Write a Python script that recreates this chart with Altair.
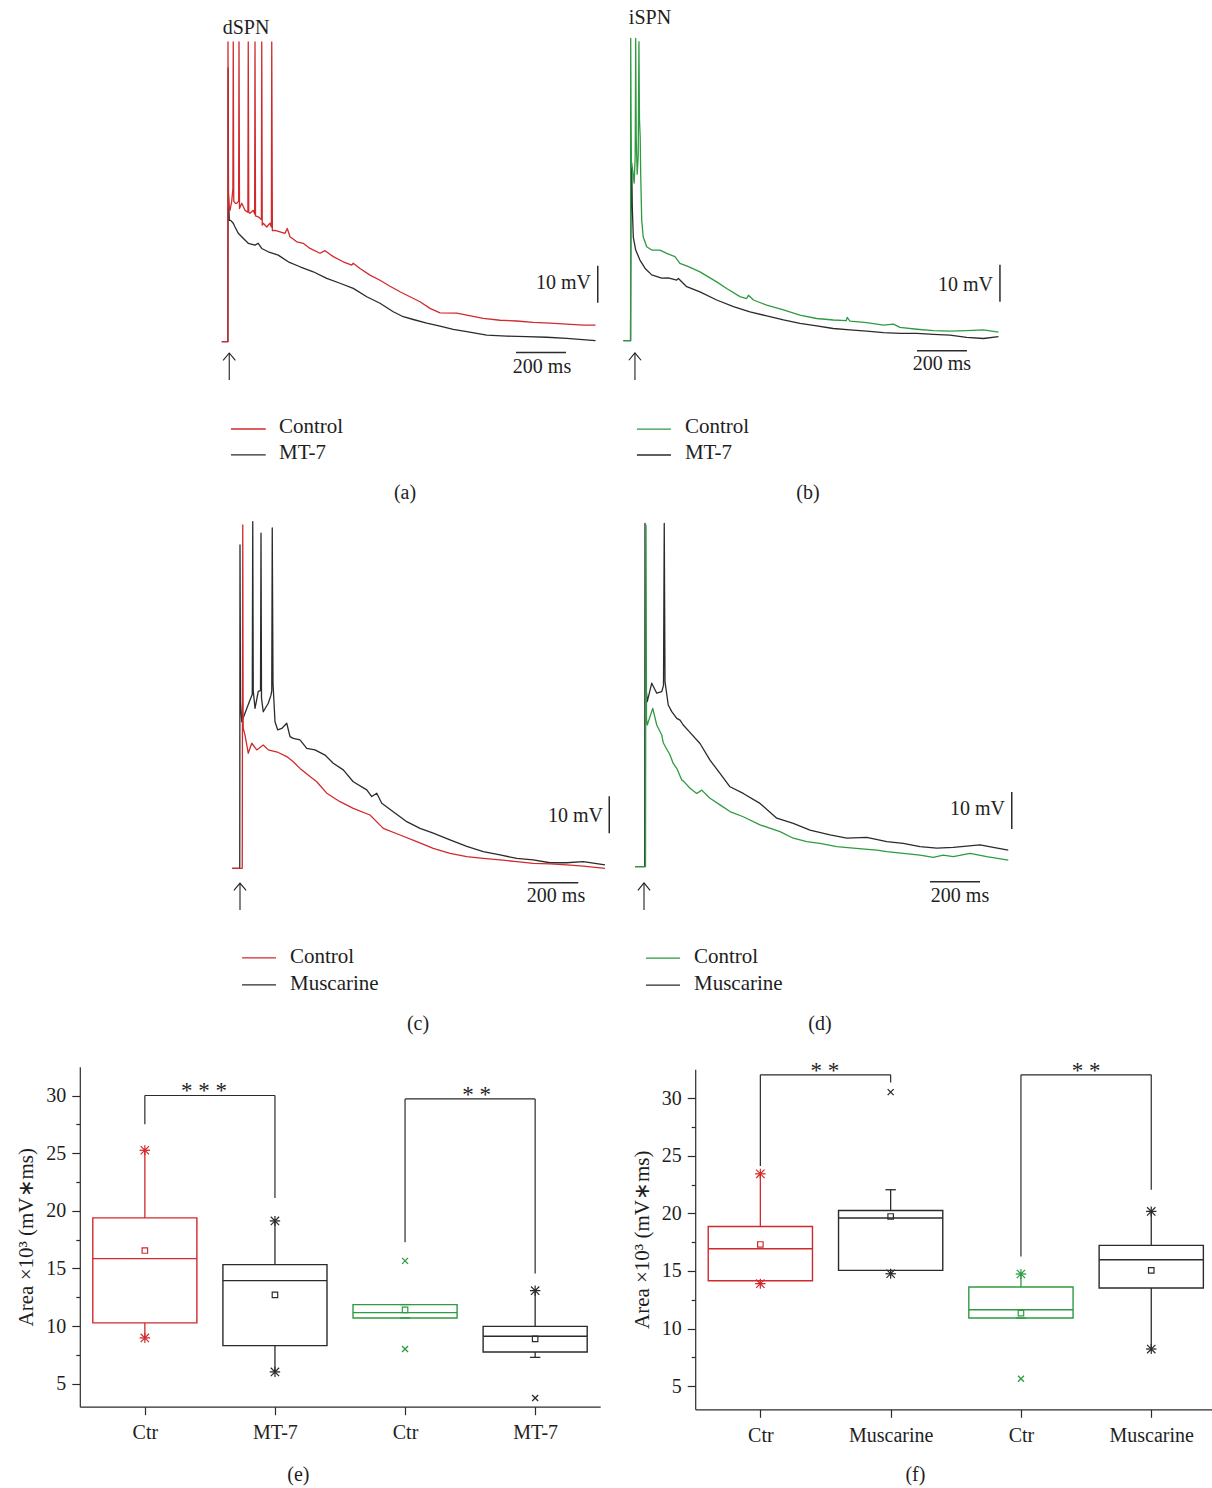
import altair as alt
import pandas as pd

RED = "#d12a2c"
GREEN = "#2f9a41"
DARK = "#2b2b2b"
INK = "#1e1e1e"
FONT = "Liberation Serif"
W, H = 1212, 1488

# ---------------- recorded traces: (ms after stimulus, mV above resting level)
A_CONTROL = [(-25, 0), (-0.5, 0), (0, 81), (1.5, 40), (5, 36), (8, 35.5), (15, 38), (19.5, 41.4), (21, 81),
             (23, 38), (30, 37.4), (35, 37.4), (42.5, 38), (44, 81), (46, 36), (55, 37.4), (68, 35.5),
             (79.5, 35), (81, 81), (83, 35), (88, 34.7), (101, 35.5), (106.5, 34.5), (108, 81), (110, 34),
             (121, 33.75), (133.5, 33), (135, 81), (137, 31.5), (141, 32), (155, 31), (168, 32), (173.5, 31),
             (175, 81), (177.5, 30), (188, 30.1), (208, 29.7), (228, 29.3), (237, 30.6), (248, 28.35),
             (275, 27), (301, 26.6), (328, 25.2), (368, 23.9), (388, 24.6), (421, 23), (461, 21.6),
             (495, 20.7), (501, 21.2), (528, 19.8), (568, 18), (608, 16.6), (648, 15), (688, 13.5),
             (728, 12.15), (768, 10.8), (808, 9), (848, 7.8), (915, 7.7), (955, 7.2), (1021, 6.3),
             (1088, 5.8), (1155, 5.6), (1221, 5.2), (1288, 5), (1355, 4.75), (1421, 4.5), (1470, 4.5)]
A_MT7 = [(-25, 0), (-0.5, 0), (0.5, 74), (2, 40), (5, 32.8), (10.7, 32.8), (21, 32), (28, 31), (41, 29.3),
         (54.7, 28.35), (81, 26.6), (108, 26.1), (121, 26.6), (134.7, 25.2), (161, 24.3), (201, 23.4),
         (241, 21.6), (288, 20.25), (341, 18.9), (395, 17.1), (448, 15.8), (501, 14.4), (555, 12.15),
         (608, 10.4), (661, 8.1), (701, 6.75), (741, 6), (795, 5), (848, 4.2), (901, 3.35), (955, 2.7),
         (1035, 1.8), (1115, 1.5), (1195, 1.35), (1275, 1.2), (1355, 0.9), (1470, 0.3)]
B_CONTROL = [(-29, 0), (-0.5, 0), (0, 81.7), (1.5, 60), (3, 47), (6, 47), (10, 45), (14, 42.6), (18, 50),
             (20, 81.7), (22, 55), (26, 45), (30, 50), (33, 80.8), (35, 60), (38, 55), (40, 45), (44, 32.6),
             (50, 28.1), (64, 25.4), (84, 24.5), (117, 24.5), (144, 23.6), (177, 22.7), (197, 20.9),
             (231, 20), (277, 18.6), (344, 15.9), (384, 14.1), (437, 11.9), (464, 11.4), (471, 12.3),
             (491, 11), (544, 9.6), (611, 8.3), (677, 6.9), (744, 6), (810, 5.6), (862, 5.4), (866, 6.3),
             (877, 5.3), (944, 4.9), (1011, 4.2), (1051, 4.5), (1077, 3.6), (1144, 3.1), (1211, 2.7),
             (1277, 2.6), (1344, 2.7), (1411, 2.9), (1471, 2.3)]
B_MT7 = [(-29, 0), (-0.5, 0), (1, 35), (4, 48), (6.4, 36), (10.4, 28), (20, 24.5), (37, 21.8), (57, 19.6),
         (84, 17.8), (124, 16.9), (150, 17), (184, 16.4), (191, 16.8), (224, 14.6), (277, 13.2), (344, 11),
         (411, 9.2), (477, 7.8), (544, 6.7), (611, 5.6), (677, 4.7), (744, 4), (810, 3.3), (877, 2.9),
         (944, 2.6), (1011, 2.2), (1077, 2), (1144, 2), (1211, 1.7), (1277, 1.5), (1344, 0.9),
         (1411, 0.6), (1471, 1.1)]
C_CONTROL = [(-31, 0), (9, 0), (11, 92.8), (12.5, 40), (13, 37.8), (20, 36), (33, 31.1), (47, 33.8),
             (67, 32), (93, 33.3), (113, 32), (153, 31.3), (187, 30.2), (213, 28.8), (240, 27), (280, 24.8),
             (307, 23.4), (347, 20.3), (400, 18), (453, 16.2), (520, 14.4), (573, 10.8), (640, 9),
             (707, 7.2), (773, 5.4), (840, 4.05), (907, 3.15), (973, 2.7), (1040, 2.25), (1107, 1.8),
             (1173, 1.35), (1240, 1.2), (1307, 0.9), (1373, 0.6), (1460, 0)]
C_MUSCARINE = [(-31, 0), (-1, 0), (0, 87.4), (2, 45), (7, 39.6), (27, 43.2), (40, 45.5), (49, 47), (51, 93.7),
               (53, 48), (60, 43.2), (73, 47.8), (82, 48), (84, 90.6), (86, 46), (93, 42.3), (113, 44.6),
               (124, 46.8), (127, 48), (129, 92), (132, 50), (140, 39.6), (151, 37.4), (167, 37.8),
               (187, 39.2), (200, 35.6), (213, 35.1), (240, 34.7), (267, 32.4), (300, 32), (340, 30.6),
               (373, 28.4), (413, 26.6), (453, 23.4), (507, 21.2), (527, 19.4), (547, 20.3), (567, 17.6),
               (613, 15.3), (667, 12.6), (720, 10.8), (773, 9.5), (840, 7.7), (907, 5.9), (973, 4.5),
               (1040, 3.6), (1107, 2.7), (1173, 2.25), (1240, 1.5), (1307, 1.5), (1373, 1.8), (1460, 0.9)]
D_CONTROL = [(-40, 0), (2, 0), (4, 92.3), (6, 40), (9, 38.3), (31, 42.8), (47, 38.3), (67, 35.6), (73, 33.5),
             (100, 30.2), (113, 27.9), (127, 26.6), (147, 23.4), (153, 23.2), (180, 21.2), (207, 19.8),
             (227, 20.7), (260, 18.5), (300, 16.7), (340, 14.9), (393, 13.5), (460, 11.3), (540, 9.5),
             (593, 7.7), (647, 6.8), (700, 6.3), (767, 5.4), (833, 5), (927, 4.5), (967, 4.05), (1033, 3.6),
             (1100, 3.15), (1153, 2.5), (1193, 3.15), (1233, 2.7), (1300, 3.6), (1367, 2.7), (1453, 1.8)]
D_MUSCARINE = [(-40, 0), (-1, 0), (0, 92.8), (2, 50), (9, 44.6), (27, 49.6), (47, 46.9), (67, 47.3), (74, 49),
               (77, 92.8), (80, 50), (93, 43.7), (107, 41.9), (127, 40.1), (140, 39.6), (153, 38.3),
               (177, 36.5), (220, 33.3), (260, 28.8), (300, 25.2), (340, 21.6), (393, 19.8), (460, 17.1),
               (527, 13.1), (593, 11.7), (660, 9.9), (740, 8.6), (807, 7.7), (887, 7.9), (967, 6.8),
               (1033, 6.3), (1100, 5.4), (1167, 5), (1233, 5.2), (1340, 5.9), (1393, 5.2), (1453, 4.5)]

# ---------------- box plot statistics (Area x10^3, mV*ms)
E_CATS = ["Ctr", "MT-7", "Ctr", "MT-7"]
E_Q1 = [10.27, 8.3, 10.7, 7.75]
E_Q3 = [19.38, 15.33, 11.86, 9.97]
E_MED = [15.85, 13.94, 11.16, 9.11]
E_MEAN = [16.55, 12.7, 11.4, 8.88]
E_WLO = [8.97, 6.02, 10.7, 7.28]
E_WHI = [25.25, 19.12, 11.86, 13.07]
E_STARS = [(1, 25.25), (1, 8.97), (2, 19.12), (2, 6.02), (4, 13.07)]
E_OUTLIERS = [(3, 15.65), (3, 8.01), (4, 3.76)]
E_SIG = ["* * *", "* *"]

F_CATS = ["Ctr", "Muscarine", "Ctr", "Muscarine"]
F_Q1 = [14.15, 15.05, 10.92, 13.52]
F_Q3 = [18.86, 20.25, 13.61, 17.22]
F_MED = [16.93, 19.6, 11.64, 15.98]
F_MEAN = [17.3, 19.73, 11.35, 15.05]
F_WLO = [13.9, 14.76, 10.92, 8.23]
F_WHI = [23.43, 22.05, 14.74, 20.17]
F_STARS = [(1, 23.43), (1, 13.9), (2, 14.76), (3, 14.74), (4, 20.17), (4, 8.23)]
F_OUTLIERS = [(2, 30.52), (3, 5.65)]
F_SIG = ["* *", "* *"]

Y_TICKS = [5, 10, 15, 20, 25, 30]
Y_MINOR = [7.5, 12.5, 17.5, 22.5, 27.5]
BOX_COLORS = [RED, DARK, GREEN, DARK]

STAR_PATH = "M-1,-1L1,1M-1,1L1,-1M0,-1.2L0,1.2"
X_PATH = "M-1,-1L1,1M-1,1L1,-1"
HEAD_PATH = "M-1,1.2L0,0L1,1.2"

# ---------------- layout of the trace panels
PX_MS = 0.25
PX_MV = 3.7
T_DOM = [-200, 1600]
V_DOM = [-60, 110]
ANCHOR = {"a": (228.0, 341.7), "b": (630.7, 340.7), "c": (240.0, 868.3), "d": (645.0, 866.7)}


def mk_scales(xdom, xrng, ydom, yrng):
    return (alt.Scale(domain=xdom, range=xrng, nice=False, zero=False),
            alt.Scale(domain=ydom, range=yrng, nice=False, zero=False))


def trace_scales(key):
    x0, y0 = ANCHOR[key]
    return mk_scales(T_DOM, [x0 + T_DOM[0] * PX_MS, x0 + T_DOM[1] * PX_MS],
                     V_DOM, [y0 - V_DOM[0] * PX_MV, y0 - V_DOM[1] * PX_MV])


def XY(S, xaxis=None, yaxis=None):
    return dict(x=alt.X("x:Q", scale=S[0], axis=xaxis), y=alt.Y("y:Q", scale=S[1], axis=yaxis))


def line_layer(S, pts, color):
    df = pd.DataFrame(pts, columns=["x", "y"])
    df["i"] = range(len(df))
    return alt.Chart(df).mark_line(color=color, strokeWidth=1.3, strokeJoin="round").encode(
        **XY(S), order="i:Q")


def rule_layer(S, rows):
    df = pd.DataFrame(rows, columns=["x", "y", "x2", "y2", "col", "w"])
    return alt.Chart(df).mark_rule().encode(
        **XY(S), x2=alt.X2("x2"), y2=alt.Y2("y2"),
        color=alt.Color("col:N", scale=None), strokeWidth=alt.StrokeWidth("w:Q", scale=None))


def text_layer(S, rows, align, size=20, baseline="middle"):
    df = pd.DataFrame(rows, columns=["x", "y", "txt"])
    return alt.Chart(df).mark_text(align=align, baseline=baseline, font=FONT, fontSize=size,
                                   color=INK).encode(**XY(S), text="txt:N")


def point_layer(S, rows, shape, size, sw=1.2, yaxis=None):
    df = pd.DataFrame(rows, columns=["x", "y", "col"])
    return alt.Chart(df).mark_point(shape=shape, size=size, filled=False, strokeWidth=sw, opacity=1).encode(
        **XY(S, yaxis=yaxis), color=alt.Color("col:N", scale=None))


def trace_panel(key, black, colored, color, names, ann):
    S = trace_scales(key)
    L = [line_layer(S, black, DARK), line_layer(S, colored, color)]
    vt, vb0, vb1 = ann["vbar"]
    h0, h1, hy = ann["hbar"]
    ax, ay0, ay1 = ann["arrow"]
    l0, l1, lt = ann["leg_x"]
    ly0, ly1 = ann["leg_y"]
    rows = [(vt, vb0, vt, vb1, DARK, 1.5), (h0, hy, h1, hy, DARK, 1.5),
            (l0, ly0, l1, ly0, color, 1.4), (l0, ly1, l1, ly1, DARK, 1.4),
            (ax, ay0, ax, ay1, INK, 1.1)]
    L.append(rule_layer(S, rows))
    L.append(point_layer(S, [(ax, ay0, INK)], HEAD_PATH, 150, sw=1.1))
    center = [(ann["ms"][0], ann["ms"][1], "200 ms"), (ann["label"][1], ann["label"][2], ann["label"][0])]
    if "title" in ann:
        center.append((ann["title"][1], ann["title"][2], ann["title"][0]))
    L.append(text_layer(S, center, "center"))
    L.append(text_layer(S, [(ann["mv"][0], ann["mv"][1], "10 mV")], "right"))
    L.append(text_layer(S, [(lt, ann["leg_ty"][0], names[0]), (lt, ann["leg_ty"][1], names[1])], "left",
                        size=21))
    return L


ANN = {
    "a": dict(title=("dSPN", 72, 84.8), vbar=(1479, 10.5, 20.5), mv=(1452, 15.9), hbar=(1152, 1352, -2.9),
              ms=(1256, -6.8), arrow=(5, -3.05, -10.35), leg_x=(12, 151, 204), leg_y=(-23.6, -30.6),
              leg_ty=(-23.1, -30.1), label=("(a)", 708, -40.9)),
    "b": dict(title=("iSPN", 77, 87.2), vbar=(1477, 10.5, 20.5), mv=(1449, 15.05), hbar=(1145, 1345, -2.7),
              ms=(1245, -6.3), arrow=(17, -3.3, -10.6), leg_x=(25, 161, 217), leg_y=(-23.9, -30.9),
              leg_ty=(-23.4, -30.4), label=("(b)", 709, -41.2)),
    "c": dict(vbar=(1477, 9.5, 19.5), mv=(1452, 14.1), hbar=(1153, 1353, -3.9),
              ms=(1264, -7.5), arrow=(0, -4.0, -11.3), leg_x=(8, 144, 200), leg_y=(-24.2, -31.5),
              leg_ty=(-24.0, -31.3), label=("(c)", 712, -42.1)),
    "d": dict(vbar=(1467, 10.2, 20.2), mv=(1440, 15.6), hbar=(1140, 1340, -4.05),
              ms=(1260, -7.9), arrow=(-4, -4.4, -11.7), leg_x=(4, 140, 196), leg_y=(-24.7, -32.0),
              leg_ty=(-24.4, -31.7), label=("(d)", 700, -42.5)),
}


def box_panel(S, cats, q1, q3, med, mean, wlo, whi, stars, outs, sig, brackets, sig_pos, label, offs):
    pos = list(range(1, len(cats) + 1))
    half, cap = 0.4, 0.04
    xoff, yoff = offs
    names = "[" + ",".join("'" + c + "'" for c in cats) + "]"
    xaxis = alt.Axis(orient="bottom", offset=xoff, values=pos, labelExpr=names + "[round(datum.value)-1]",
                     tickSize=8, tickWidth=1.2, tickColor=DARK, domainColor=DARK, domainWidth=1.2,
                     labelFont=FONT, labelFontSize=20, labelColor=INK, labelPadding=8, grid=False,
                     title=None, labelFlush=False, labelOverlap=False, labelBound=False)
    yaxis = alt.Axis(orient="left", offset=yoff, values=Y_TICKS, tickSize=8, tickWidth=1.2, tickColor=DARK,
                     domainColor=DARK, domainWidth=1.2, labelFont=FONT, labelFontSize=20, labelColor=INK,
                     labelPadding=6, grid=False, title="Area ×10³ (mV∗ms)", titleFont=FONT,
                     titleFontSize=21, titleFontWeight="normal", titleColor=INK, titlePadding=9,
                     labelFlush=False, labelOverlap=False)
    minor = alt.Axis(orient="left", offset=yoff, values=Y_MINOR, tickSize=4, tickWidth=1.2, tickColor=DARK,
                     domain=False, labels=False, grid=False, title=None)
    rect = pd.DataFrame({"x": [p - half for p in pos], "x2": [p + half for p in pos],
                         "y": q1, "y2": q3, "col": BOX_COLORS})
    L = [alt.Chart(rect).mark_rect(filled=False, strokeWidth=1.4).encode(
        x=alt.X("x:Q", scale=S[0], axis=xaxis), x2=alt.X2("x2"),
        y=alt.Y("y:Q", scale=S[1], axis=yaxis), y2=alt.Y2("y2"),
        color=alt.Color("col:N", scale=None))]
    rows = []
    for p, a, b, m, lo, hi, c in zip(pos, q1, q3, med, wlo, whi, BOX_COLORS):
        rows.append((p - half, m, p + half, m, c, 1.4))
        if hi > b:
            rows.append((p, b, p, hi, c, 1.3))
        if lo < a:
            rows.append((p, lo, p, a, c, 1.3))
        rows.append((p - cap, hi, p + cap, hi, c, 1.3))
        rows.append((p - cap, lo, p + cap, lo, c, 1.3))
    for l, r, lb, top, rb in brackets:
        rows += [(l, lb, l, top, DARK, 1.2), (l, top, r, top, DARK, 1.2), (r, top, r, rb, DARK, 1.2)]
    L.append(rule_layer(S, rows))
    L.append(point_layer(S, [(p, v, BOX_COLORS[p - 1]) for p, v in zip(pos, mean)], "square", 30,
                         yaxis=minor))
    L.append(point_layer(S, [(p, v, BOX_COLORS[p - 1]) for p, v in stars], STAR_PATH, 70, sw=1.2))
    L.append(point_layer(S, [(p, v, BOX_COLORS[p - 1]) for p, v in outs], X_PATH, 36, sw=1.3))
    L.append(text_layer(S, [(x, y, s) for s, (x, y) in zip(sig, sig_pos)], "center", size=23,
                        baseline="alphabetic"))
    L.append(text_layer(S, [label], "center"))
    return L


E_S = mk_scales([0.5, 4.5], [79.8, 600.2], [3, 32.5], [1406.7, 1066.7])
F_S = mk_scales([0.5, 4.5], [695.2, 1216.4], [3, 32.5], [1409.3, 1069.3])

layers = []
layers += trace_panel("a", A_MT7, A_CONTROL, RED, ["Control", "MT-7"], ANN["a"])
layers += trace_panel("b", B_MT7, B_CONTROL, GREEN, ["Control", "MT-7"], ANN["b"])
layers += trace_panel("c", C_MUSCARINE, C_CONTROL, RED, ["Control", "Muscarine"], ANN["c"])
layers += trace_panel("d", D_MUSCARINE, D_CONTROL, GREEN, ["Control", "Muscarine"], ANN["d"])
layers += box_panel(E_S, E_CATS, E_Q1, E_Q3, E_MED, E_MEAN, E_WLO, E_WHI, E_STARS, E_OUTLIERS, E_SIG,
                    [(1, 2, 27.5, 30.0, 21.1), (3, 4, 17.27, 29.7, 14.55)],
                    [(1.455, 29.75), (3.55, 29.45)], (2.18, -2.93, "(e)"), (-81.3, -79.8))
layers += box_panel(F_S, F_CATS, F_Q1, F_Q3, F_MED, F_MEAN, F_WLO, F_WHI, F_STARS, F_OUTLIERS, F_SIG,
                    [(1, 2, 24.1, 32.02, 31.35), (3, 4, 16.26, 32.02, 22.05)],
                    [(1.496, 31.75), (3.5, 31.75)], (2.19, -2.7, "(f)"), (-78.7, -695.2))

chart = alt.layer(*layers).resolve_scale(x="independent", y="independent").properties(
    width=W, height=H, autosize=alt.AutoSizeParams(type="none"), padding=0, background="white"
).configure_view(stroke=None)

chart.save("out.html", embed_options={"renderer": "svg", "actions": False})
